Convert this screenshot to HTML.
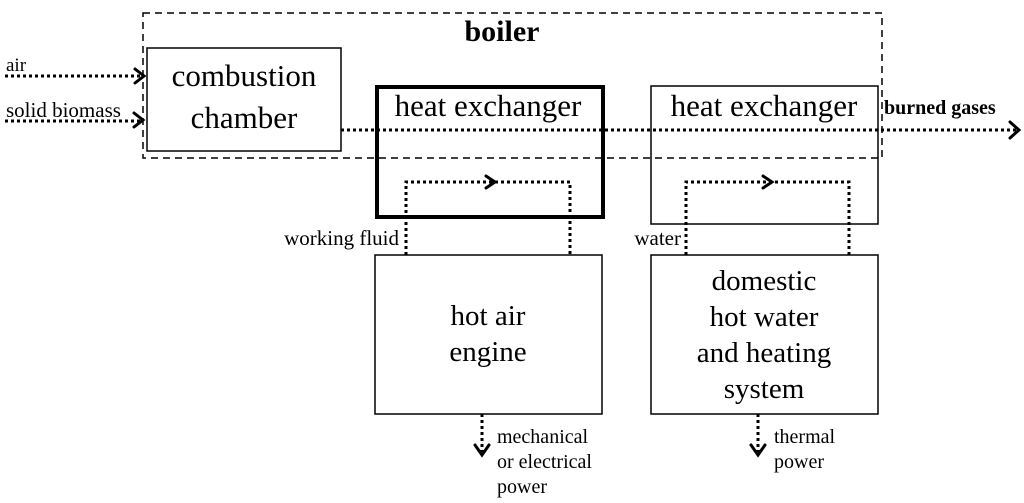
<!DOCTYPE html>
<html><head><style>
body{margin:0;background:#fff;}
svg{display:block;}
text{font-family:"Liberation Serif",serif;fill:#000;}
</style></head><body>
<svg width="1024" height="503" viewBox="0 0 1024 503" xmlns="http://www.w3.org/2000/svg">
<g fill="none" stroke="#000">
<rect x="143" y="13" width="739" height="145" stroke-width="1.5" stroke-dasharray="7,5"/>
<rect x="147" y="48" width="194" height="103" stroke-width="1.5"/>
<rect x="377" y="87" width="226" height="130" stroke-width="4"/>
<rect x="651" y="86" width="227" height="138" stroke-width="1.5"/>
<rect x="375" y="255" width="227" height="159" stroke-width="1.5"/>
<rect x="651" y="255" width="227" height="159" stroke-width="1.5"/>
<g stroke-width="3" stroke-dasharray="3,3">
<line x1="5" y1="76" x2="142" y2="76"/>
<line x1="5" y1="121" x2="142" y2="121"/>
<line x1="341" y1="130" x2="1017" y2="130"/>
<polyline points="406,255 406,182 570,182 570,255"/>
<polyline points="686,255 686,182 849,182 849,255"/>
<line x1="482" y1="414" x2="482" y2="452"/>
<line x1="758" y1="414" x2="758" y2="452"/>
</g>
<g stroke-width="3" stroke-linecap="round">
<polyline points="135,69 144,76 135,83"/>
<polyline points="134,113 143,120 134,127"/>
<polyline points="1010,122 1019,130 1010,138"/>
<polyline points="486,176 495,182 486,188"/>
<polyline points="763,176 772,182 763,188"/>
<polyline points="475,445 482,455 489,445"/>
<polyline points="751,445 758,455 765,445"/>
</g>
</g>
<text x="502" y="41" font-size="30" font-weight="bold" text-anchor="middle">boiler</text>
<text x="244" y="86" font-size="31" text-anchor="middle">combustion</text>
<text x="244" y="128" font-size="31" text-anchor="middle">chamber</text>
<text x="488" y="116" font-size="31" text-anchor="middle">heat exchanger</text>
<text x="764" y="116" font-size="31" text-anchor="middle">heat exchanger</text>
<text x="488" y="325" font-size="29" text-anchor="middle">hot air</text>
<text x="488" y="361" font-size="29" text-anchor="middle">engine</text>
<text x="764" y="290" font-size="29" text-anchor="middle">domestic</text>
<text x="764" y="326" font-size="29" text-anchor="middle">hot water</text>
<text x="764" y="362" font-size="29" text-anchor="middle">and heating</text>
<text x="764" y="398" font-size="29" text-anchor="middle">system</text>
<text x="6" y="71" font-size="19">air</text>
<text x="6" y="117" font-size="21">solid biomass</text>
<text x="884" y="114" font-size="20" font-weight="bold">burned gases</text>
<text x="399" y="245" font-size="21" text-anchor="end">working fluid</text>
<text x="681" y="245" font-size="21" text-anchor="end">water</text>
<text x="497" y="443" font-size="20">mechanical</text>
<text x="497" y="468" font-size="20">or electrical</text>
<text x="497" y="493" font-size="20">power</text>
<text x="774" y="443" font-size="20">thermal</text>
<text x="774" y="468" font-size="20">power</text>
</svg>
</body></html>
